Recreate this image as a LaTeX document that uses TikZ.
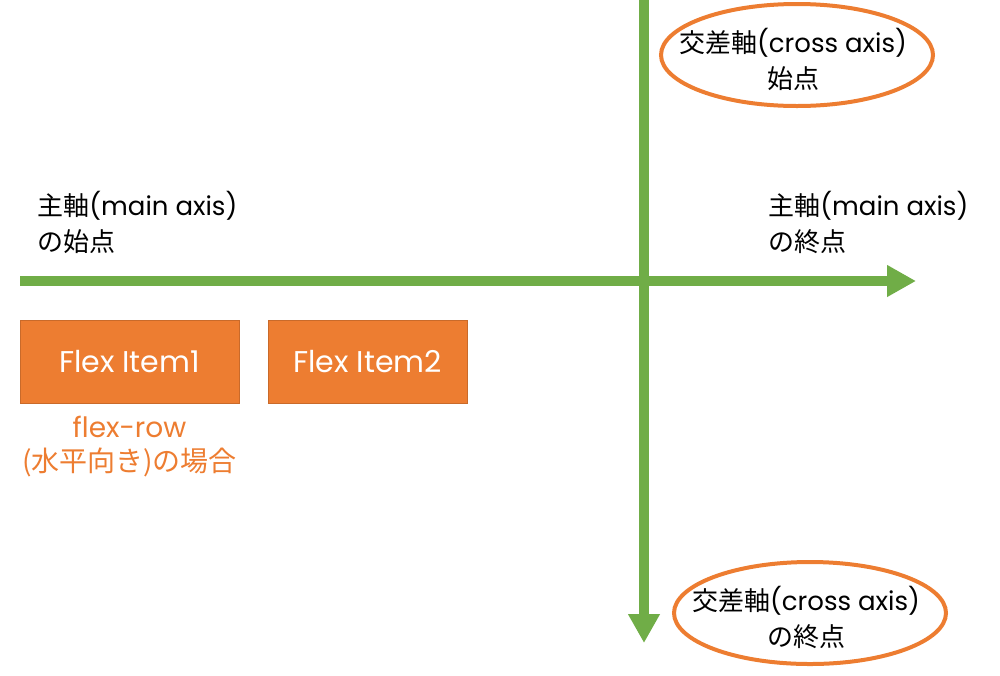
\documentclass[tikz,border=0pt]{standalone}
\usepackage{fontspec}
\setmainfont{Poppins}
\newfontfamily\jp{Noto Sans CJK JP}
\usetikzlibrary{arrows.meta,positioning,shapes.geometric}
\definecolor{axisgreen}{HTML}{70AD47}
\definecolor{itemorange}{HTML}{ED7D31}

\begin{document}
\begin{tikzpicture}[x=0.5pt, y=-0.5pt,
  axis/.style={draw=axisgreen, line width=5pt, -{Triangle[length=14.5pt,width=15pt]}},
  item/.style={rectangle, draw=itemorange!85!black, line width=0.4pt, fill=itemorange, text=white, minimum height=41.5pt, inner sep=0pt, font=\fontsize{15}{18}\selectfont},
  axistext/.style={align=left, inner sep=0pt, font=\fontsize{13}{18}\selectfont},
  endpoint/.style={ellipse, draw=itemorange, line width=2pt, minimum width=136pt, minimum height=51pt, inner sep=0pt}]
  \useasboundingbox (0,0) rectangle (1000,675);

  % axes
  \coordinate (m0) at (20,281);
  \coordinate (m1) at (916,281);
  \coordinate (c0) at (644,0);
  \coordinate (c1) at (644,643);
  \draw[axis] (m0) -- (m1);
  \draw[axis] (c0) -- (c1);

  \node[axistext, anchor=north west] (mstart) at (37,191) {{\jp 主軸}(main axis)\\{\jp の始点}};
  \node[axistext, anchor=north west] (mend) at (768,191) {{\jp 主軸}(main axis)\\{\jp の終点}};

  \node[endpoint] (cstart) at (797,55) {};
  \node[axistext, align=center, xshift=-2pt, yshift=-2pt] (cstarttext) at (cstart) {{\jp 交差軸}(cross axis)\\{\jp 始点}};
  \node[endpoint] (cend) at (810,613) {};
  \node[axistext, align=center, xshift=-2pt, yshift=-2pt] (cendtext) at (cend) {{\jp 交差軸}(cross axis)\\{\jp の終点}};

  % flex items
  \node[item, minimum width=109.5pt] (item1) at (129.5,361.5) {\raisebox{-1.5pt}{Flex Item1}};
  \node[item, minimum width=99.5pt] (item2) at (367.5,361.5) {\raisebox{-1.5pt}{Flex Item2}};
  \node[align=center, inner sep=0pt, text=itemorange, font=\fontsize{14}{17}\selectfont, below=6pt of item1] (caption) {flex-row\\{\jp (水平向き)の場合}};
\end{tikzpicture}
\end{document}
